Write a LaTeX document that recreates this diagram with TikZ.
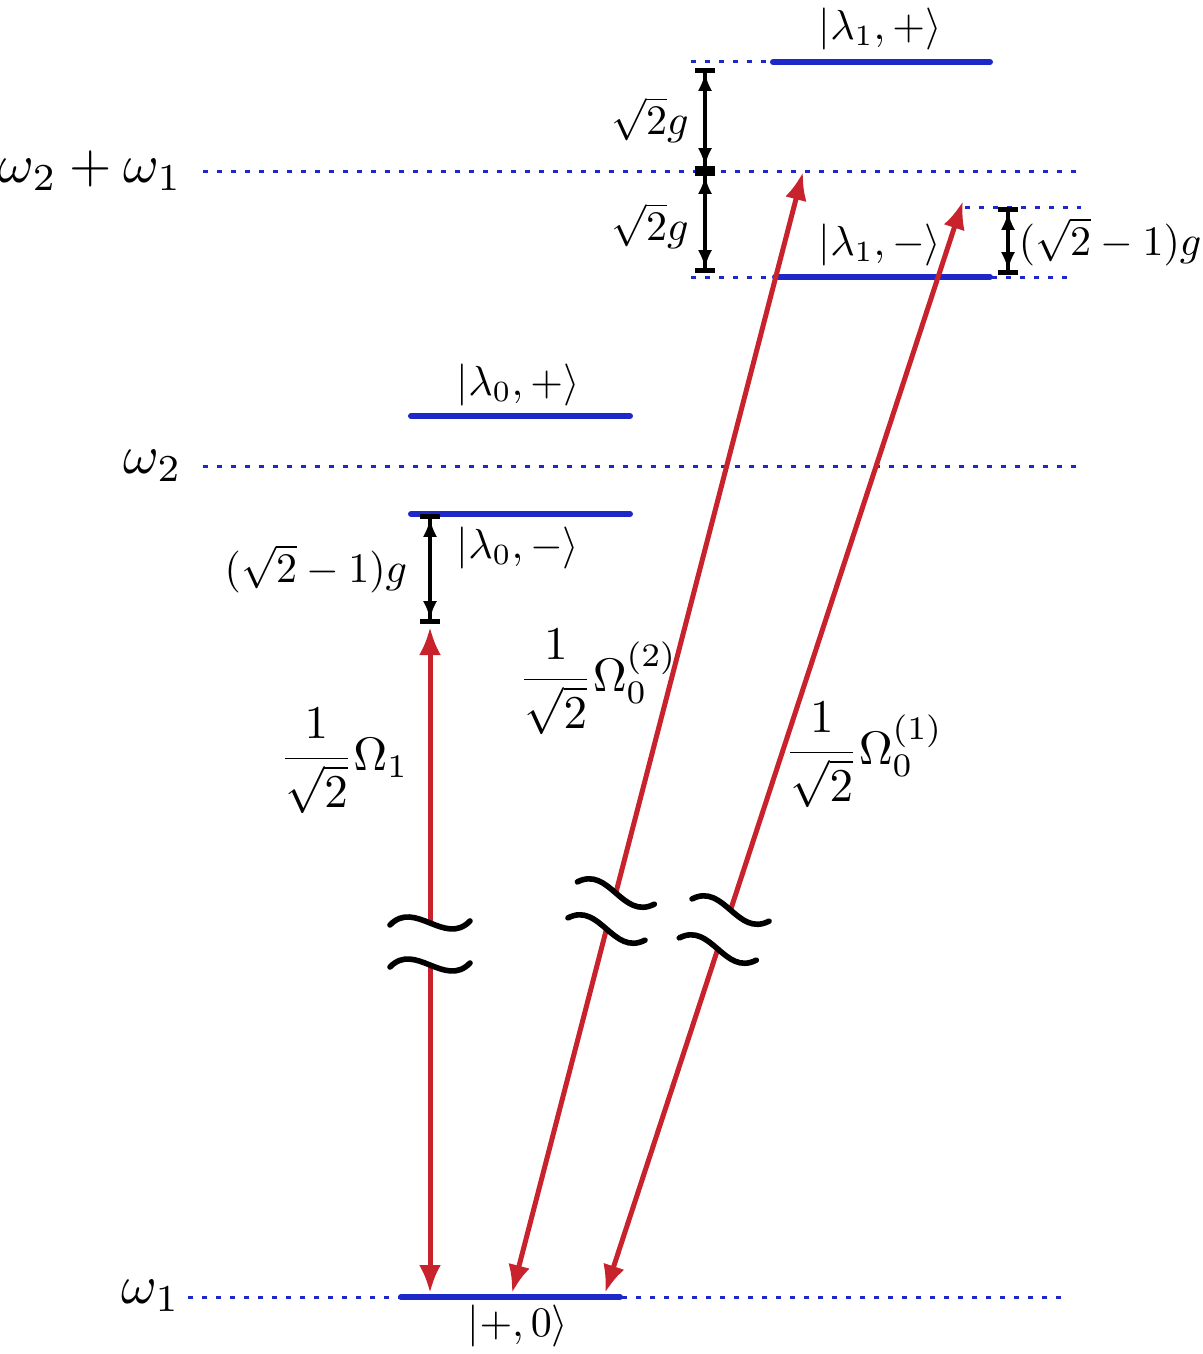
\documentclass[tikz,border=0pt]{standalone}
\usepackage{amsmath}
\usetikzlibrary{arrows.meta,calc}
\definecolor{lvlblue}{RGB}{30,40,200}
\definecolor{arrred}{RGB}{200,35,45}
\begin{document}
\begin{tikzpicture}[x=0.5pt,y=-0.5pt,
  level/.style={lvlblue,line width=3pt,line cap=round},
  guide/.style={lvlblue,line width=1.5pt,dash pattern=on 2.5pt off 4.5pt},
  trans/.style={arrred,line width=2.5pt,-{Latex[length=14pt,width=11pt]}},
  meas/.style={black,line width=1.7pt,{Bar[width=10pt,line width=2.4pt]Latex[length=9pt,width=7pt]}-{Latex[length=9pt,width=7pt]Bar[width=10pt,line width=2.4pt]}},
  wave/.style={black,line width=2.8pt,line cap=round},
  big/.style={scale=2.72,inner sep=0pt},
  ket/.style={scale=2.1,inner sep=0pt},
  rabi/.style={scale=2.35,inner sep=0pt},
  brk/.pic={\draw[wave] (-40,2) .. controls (-15,-24) and (15,24) .. (40,-2);}
]
\useasboundingbox (0,0) rectangle (1203,1354);

% guide (dotted) lines
\coordinate (g21L) at (203,171); \coordinate (g21R) at (1085,171);
\coordinate (g2L) at (203,466);  \coordinate (g2R) at (1085,466);
\coordinate (g1L) at (188,1297); \coordinate (g1R) at (1068,1297);
\coordinate (gpL) at (691,62);   \coordinate (gpR) at (772,62);
\coordinate (gmL) at (691,277);  \coordinate (gmR) at (775,277);
\coordinate (gmL2) at (992,277); \coordinate (gmR2) at (1071,277);
\coordinate (gsL) at (965,207);  \coordinate (gsR) at (1081,207);
\foreach \a/\b in {g21L/g21R,g2L/g2R,g1L/g1R,gpL/gpR,gmL/gmR,gmL2/gmR2,gsL/gsR}
  \draw[guide] (\a) -- (\b);

% levels
\coordinate (l1pL) at (773,62);   \coordinate (l1pR) at (990,62);
\coordinate (l1mL) at (775,277);  \coordinate (l1mR) at (990,277);
\coordinate (l0pL) at (411,416);  \coordinate (l0pR) at (630,416);
\coordinate (l0mL) at (411,514);  \coordinate (l0mR) at (630,514);
\coordinate (gndL) at (401,1297); \coordinate (gndR) at (620,1297);
\foreach \a/\b in {l1pL/l1pR,l1mL/l1mR,l0pL/l0pR,l0mL/l0mR,gndL/gndR}
  \draw[level] (\a) -- (\b);

% level labels
\node[big,anchor=east] (w21) at (183,171) {$\omega_2+\omega_1$};
\node[big,anchor=east] (w2) at (183,466) {$\omega_2$};
\node[big,anchor=east] (w1) at (181,1296) {$\omega_1$};
\node[ket] (k1p) at (880,29) {$|\lambda_1,+\rangle$};
\node[ket] (k1m) at (880,245) {$|\lambda_1,-\rangle$};
\node[ket] (k0p) at (518,385) {$|\lambda_0,+\rangle$};
\node[ket] (k0m) at (518,548) {$|\lambda_0,-\rangle$};
\node[ket] (k00) at (518,1326) {$|+,0\rangle$};

% measurement arrows
\coordinate (m1a) at (705,68);  \coordinate (m1b) at (705,171);
\coordinate (m2a) at (705,171); \coordinate (m2b) at (705,273);
\coordinate (m3a) at (1008,207); \coordinate (m3b) at (1008,275);
\coordinate (m4a) at (430,514); \coordinate (m4b) at (430,624);
\draw[meas] (m1a) -- (m1b);
\draw[meas] (m2a) -- (m2b);
\draw[meas] (m3a) -- (m3b);
\draw[meas] (m4a) -- (m4b);
\node[ket] (s1) at (650,120) {$\sqrt{2}g$};
\node[ket] (s2) at (650,226) {$\sqrt{2}g$};
\node[ket,anchor=west] (s3) at (1018,242) {$(\sqrt{2}-1)g$};
\node[ket] (s4) at (316,569) {$(\sqrt{2}-1)g$};

% red transitions
\coordinate (a1b) at (430,1293); \coordinate (a1t) at (430,627);
\coordinate (a2b) at (512,1293); \coordinate (a2t) at (803,172);
\coordinate (a3b) at (605,1293); \coordinate (a3t) at (963,201);
\coordinate (a1l) at ($(a1b)!0.4925!(a1t)$); \coordinate (a1u) at ($(a1b)!0.5556!(a1t)$);
\coordinate (a2l) at ($(a2b)!0.3247!(a2t)$); \coordinate (a2u) at ($(a2b)!0.3568!(a2t)$);
\coordinate (a3l) at ($(a3b)!0.3150!(a3t)$); \coordinate (a3u) at ($(a3b)!0.3507!(a3t)$);
\draw[trans] (a1l) -- (a1b);
\draw[trans] (a1u) -- (a1t);
\draw[trans] (a2l) -- (a2b);
\draw[trans] (a2u) -- (a2t);
\draw[trans] (a3l) -- (a3b);
\draw[trans] (a3u) -- (a3t);

% break marks
\pic at (a1l) {brk};
\pic at (a1u) {brk};
\pic[rotate=-19] at (a2l) {brk};
\pic[rotate=-19] at (a2u) {brk};
\pic[rotate=-19] at (a3l) {brk};
\pic[rotate=-19] at (a3u) {brk};

% transition labels
\node[rabi] (r1) at (344,761) {$\displaystyle\frac{1}{\sqrt{2}}\Omega_1$};
\node[rabi] (r2) at (598,682) {$\displaystyle\frac{1}{\sqrt{2}}\Omega_0^{(2)}$};
\node[rabi] (r3) at (864,755) {$\displaystyle\frac{1}{\sqrt{2}}\Omega_0^{(1)}$};
\end{tikzpicture}
\end{document}
